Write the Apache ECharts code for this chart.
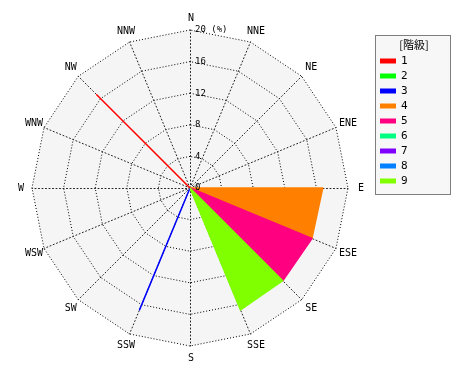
<!DOCTYPE html>
<html><head><meta charset="utf-8">
<script src="https://cdn.jsdelivr.net/npm/echarts@6/dist/echarts.min.js"></script>
<style>html,body{margin:0;padding:0;background:#fff}#c{width:470px;height:380px}</style>
</head><body><div id="c"></div>
<script>
// Directions (clockwise from North)
var directions = ['N','NNE','NE','ENE','E','ESE','SE','SSE','S','SSW','SW','WSW','W','WNW','NW','NNW'];
var classNames = ['1','2','3','4','5','6','7','8','9'];
var classColors = ['#ff0000','#00ff00','#0000ff','#ff8000','#ff0080','#00ff80','#8000ff','#0080ff','#80ff00'];
var radiusTicks = [0,4,8,12,16,20];
// Values (%) per class, in order of `directions`
var class1 = [0,0,0,0,0,0,0,0,0,0,0,0,0,0,16.7,0];
var class2 = [];
var class3 = [0,0,0,0,0,0,0,0,0,16.7,0,0,0,0,0,0];
var class4 = [0,0,0,0,16.8,16.7,0,0,0,0,0,0,0,0,0,0];
var class5 = [0,0,0,0,0,16.7,16.6,0,0,0,0,0,0,0,0,0];
var class6 = [];
var class7 = [];
var class8 = [];
var class9 = [0,0,0,0,0,0,16.6,16.7,0,0,0,0,0,0,0,0];
var classValues = [class1,class2,class3,class4,class5,class6,class7,class8,class9];

// radar goes counter-clockwise: reorder so that it appears clockwise
var order = [0];
for (var i = directions.length - 1; i >= 1; i--) order.push(i);
var indicator = order.map(function (k) { return { name: directions[k], max: 20, min: 0 }; });

var series = classNames.map(function (n, ci) {
  var vals = classValues[ci];
  return {
    name: n, type: 'radar', symbol: 'none',
    color: classColors[ci],
    lineStyle: { width: 1.5, color: classColors[ci] },
    areaStyle: { color: classColors[ci], opacity: 1 },
    z: 3,
    data: vals.length ? [{ value: order.map(function (k) { return vals[k]; }) }] : []
  };
});

var chart = echarts.init(document.getElementById('c'));
chart.setOption({
  animation: false,
  backgroundColor: '#ffffff',
  radar: {
    center: [190, 188], radius: 158, startAngle: 90, shape: 'polygon', splitNumber: 5,
    indicator: indicator,
    axisName: { color: '#000', fontSize: 10, fontFamily: 'DejaVu Sans Mono', align: 'center', verticalAlign: 'middle',
      padding: [5, 0, 0, 2] },
    nameGap: 12,
    axisLine: { lineStyle: { color: '#222', type: [1, 2.5], width: 1 } },
    splitLine: { lineStyle: { color: '#000', type: [1, 2], width: 1 } },
    splitArea: { areaStyle: { color: ['#f5f5f5'] } }
  },
  polar: { center: [190, 188], radius: 158 },
  angleAxis: { type: 'value', min: 0, max: 360, startAngle: 90, show: false },
  radiusAxis: {
    type: 'value', min: 0, max: 20, interval: 4, z: 10,
    axisLine: { show: false }, axisTick: { show: false }, splitLine: { show: false },
    axisLabel: {
      show: true, color: '#000', fontSize: 9, fontFamily: 'DejaVu Sans Mono', margin: -5, align: 'left',
      formatter: function (v) { return v === 20 ? '20 (%)' : String(v); }
    }
  },
  legend: {
    orient: 'vertical', left: 375, top: 50, icon: 'rect', itemWidth: 16, itemHeight: 5, itemGap: 3,
    data: classNames,
    textStyle: { color: '#000', fontSize: 11, fontFamily: 'DejaVu Sans Mono', lineHeight: 12 }
  },
  graphic: [
    { type: 'rect', z: -1, shape: { x: 375.5, y: 35.5, width: 75, height: 159 },
      style: { fill: '#f7f7f7', stroke: '#000', lineWidth: 1, lineDash: [1, 1] } },
    { type: 'text', x: 414, y: 45, style: { text: '[階級]', textAlign: 'center', textVerticalAlign: 'middle',
      fontSize: 11, fontFamily: 'Noto Sans CJK JP', fill: '#000' } }
  ],
  series: series
});
</script></body></html>
